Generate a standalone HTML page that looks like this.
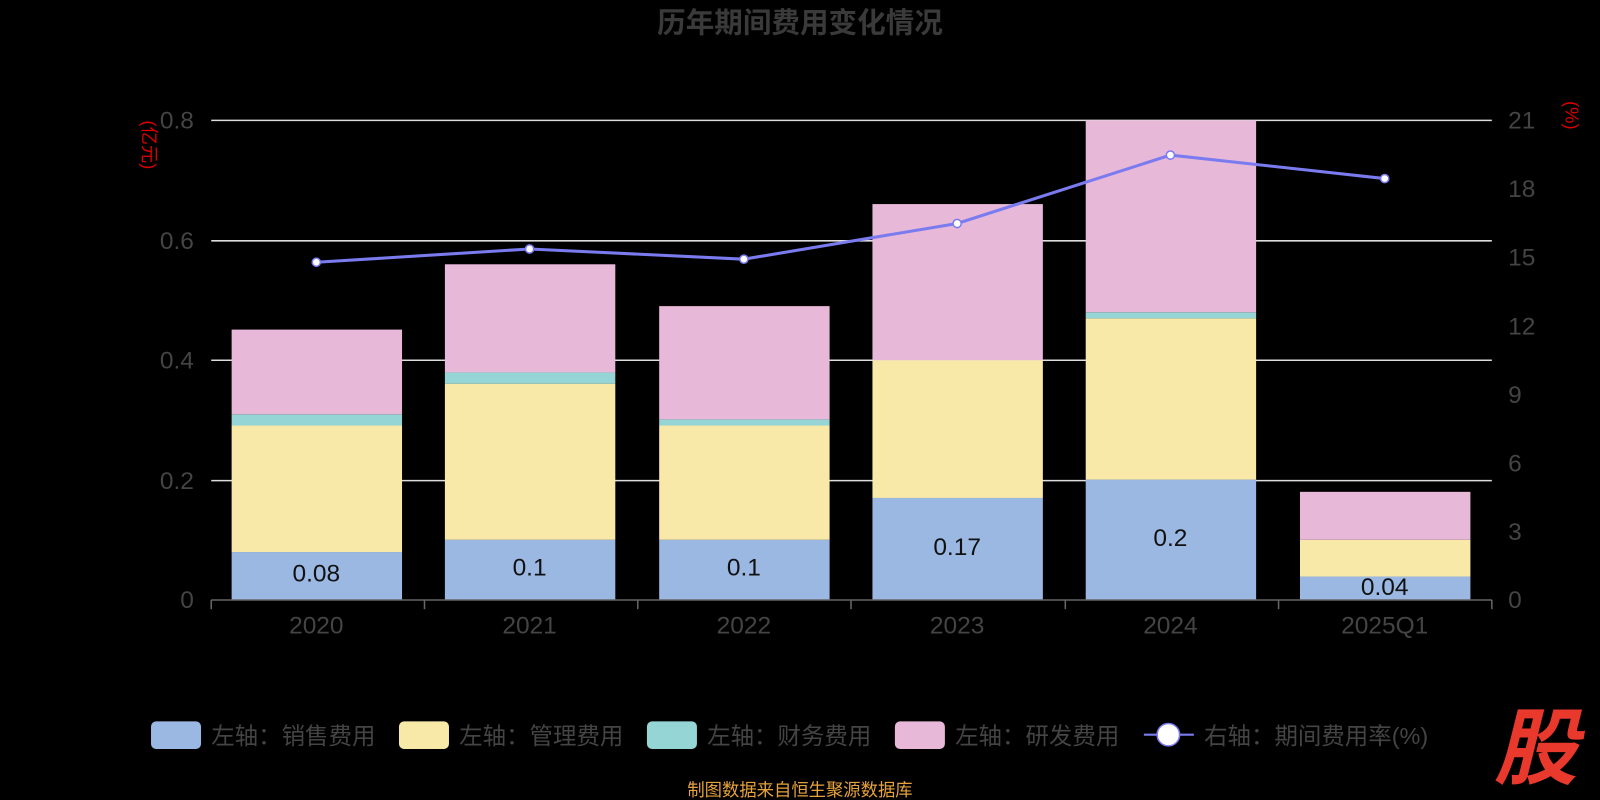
<!DOCTYPE html>
<html><head><meta charset="utf-8"><style>
html,body{margin:0;padding:0;background:#000;width:1600px;height:800px;overflow:hidden}
svg{display:block}
text{font-family:"Liberation Sans","Noto Sans CJK SC",sans-serif}
</style></head><body>
<svg width="1600" height="800" viewBox="0 0 1568 784" xmlns="http://www.w3.org/2000/svg">
<rect width="1568" height="784" fill="#000"/>
<text x="784" y="32" text-anchor="middle" font-size="28" font-weight="bold" fill="#3a3a3a">历年期间费用变化情况</text>
<g stroke="#ddd" stroke-width="1.5">
<line x1="207" y1="118" x2="1462" y2="118"/><line x1="207" y1="236" x2="1462" y2="236"/>
<line x1="207" y1="353" x2="1462" y2="353"/><line x1="207" y1="471" x2="1462" y2="471"/>
</g>
<g font-size="24" fill="#444" text-anchor="end">
<text x="190" y="126">0.8</text><text x="190" y="244">0.6</text><text x="190" y="361">0.4</text><text x="190" y="479">0.2</text><text x="190" y="596">0</text>
</g>
<g font-size="24" fill="#444" text-anchor="start">
<text x="1478" y="126">21</text><text x="1478" y="193">18</text><text x="1478" y="260">15</text><text x="1478" y="328">12</text><text x="1478" y="395">9</text><text x="1478" y="462">6</text><text x="1478" y="529">3</text><text x="1478" y="596">0</text>
</g>
<text transform="translate(140,142) rotate(90)" font-size="18" fill="#d00" text-anchor="middle">(亿元)</text>
<text transform="translate(1534,113) rotate(90)" font-size="18" fill="#d00" text-anchor="middle">(%)</text>
<g id="bars">
<rect x="227" y="541" width="167" height="47" fill="#9bb8e3"/><rect x="227" y="417" width="167" height="124" fill="#f9e9a9"/><rect x="227" y="406" width="167" height="11" fill="#96d5d5"/><rect x="227" y="323" width="167" height="83" fill="#e8b8d9"/>
<rect x="436" y="529" width="167" height="59" fill="#9bb8e3"/><rect x="436" y="376" width="167" height="153" fill="#f9e9a9"/><rect x="436" y="365" width="167" height="11" fill="#96d5d5"/><rect x="436" y="259" width="167" height="106" fill="#e8b8d9"/>
<rect x="646" y="529" width="167" height="59" fill="#9bb8e3"/><rect x="646" y="417" width="167" height="112" fill="#f9e9a9"/><rect x="646" y="411" width="167" height="6" fill="#96d5d5"/><rect x="646" y="300" width="167" height="111" fill="#e8b8d9"/>
<rect x="855" y="488" width="167" height="100" fill="#9bb8e3"/><rect x="855" y="353" width="167" height="135" fill="#f9e9a9"/><rect x="855" y="200" width="167" height="153" fill="#e8b8d9"/>
<rect x="1064" y="470" width="167" height="118" fill="#9bb8e3"/><rect x="1064" y="312" width="167" height="158" fill="#f9e9a9"/><rect x="1064" y="306" width="167" height="6" fill="#96d5d5"/><rect x="1064" y="118" width="167" height="188" fill="#e8b8d9"/>
<rect x="1274" y="565" width="167" height="23" fill="#9bb8e3"/><rect x="1274" y="529" width="167" height="36" fill="#f9e9a9"/><rect x="1274" y="482" width="167" height="47" fill="#e8b8d9"/>
</g>
<g font-size="24" fill="#111" text-anchor="middle">
<text x="310" y="570">0.08</text><text x="519" y="564">0.1</text><text x="729" y="564">0.1</text><text x="938" y="544">0.17</text><text x="1147" y="535">0.2</text><text x="1357" y="583">0.04</text>
</g>
<line x1="207" y1="588" x2="1462" y2="588" stroke="#666" stroke-width="1.5"/>
<g stroke="#666" stroke-width="1.5">
<line x1="207" y1="588" x2="207" y2="597"/><line x1="416" y1="588" x2="416" y2="597"/><line x1="625" y1="588" x2="625" y2="597"/><line x1="834" y1="588" x2="834" y2="597"/><line x1="1044" y1="588" x2="1044" y2="597"/><line x1="1253" y1="588" x2="1253" y2="597"/><line x1="1462" y1="588" x2="1462" y2="597"/>
</g>
<g font-size="24" fill="#444" text-anchor="middle">
<text x="310" y="621">2020</text><text x="519" y="621">2021</text><text x="729" y="621">2022</text><text x="938" y="621">2023</text><text x="1147" y="621">2024</text><text x="1357" y="621">2025Q1</text>
</g>
<polyline points="310,257 519,244 729,254 938,219 1147,152 1357,175" fill="none" stroke="#7b7bf0" stroke-width="3"/>
<g fill="#fff" stroke="#7b7bf0" stroke-width="1.5">
<circle cx="310" cy="257" r="4"/><circle cx="519" cy="244" r="4"/><circle cx="729" cy="254" r="4"/><circle cx="938" cy="219" r="4"/><circle cx="1147" cy="152" r="4"/><circle cx="1357" cy="175" r="4"/>
</g>
<g font-size="23" fill="#444">
<rect x="148" y="707" width="49" height="27" rx="5" fill="#9bb8e3"/><text x="207" y="729">左轴：销售费用</text>
<rect x="391" y="707" width="49" height="27" rx="5" fill="#f9e9a9"/><text x="450" y="729">左轴：管理费用</text>
<rect x="634" y="707" width="49" height="27" rx="5" fill="#96d5d5"/><text x="693" y="729">左轴：财务费用</text>
<rect x="877" y="707" width="49" height="27" rx="5" fill="#e8b8d9"/><text x="936" y="729">左轴：研发费用</text>
<line x1="1121" y1="720" x2="1170" y2="720" stroke="#7b7bf0" stroke-width="2"/><circle cx="1145" cy="720" r="11" fill="#fff" stroke="#7b7bf0" stroke-width="1.5"/>
<text x="1180" y="729">右轴：期间费用率(%)</text>
</g>
<text x="784" y="780" text-anchor="middle" font-size="17" fill="#e6a23c">制图数据来自恒生聚源数据库</text>
<text x="1505" y="762" text-anchor="middle" font-size="82" font-weight="bold" font-style="italic" fill="#e8392c">股</text>
</svg>
</body></html>
